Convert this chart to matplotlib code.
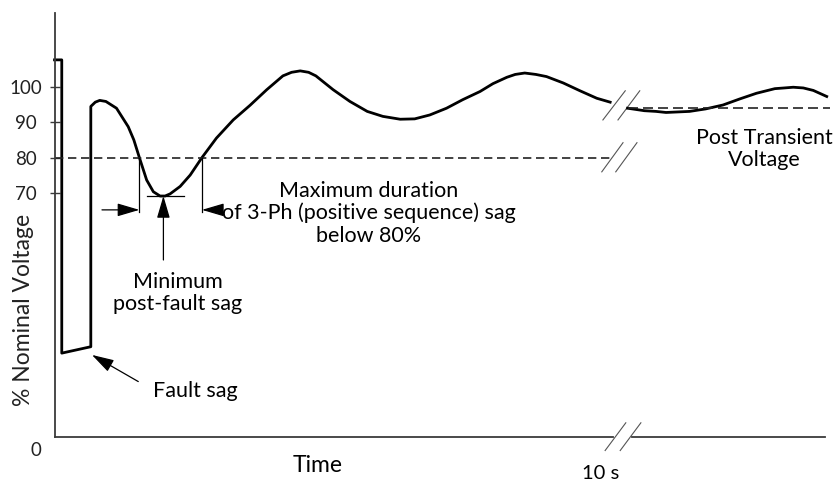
#!/usr/bin/env python3
"""Schematic of a voltage ride-through envelope: fault sag, post-fault
recovery swing and post-transient voltage, with a broken time axis."""

import matplotlib

matplotlib.use("Agg")
import matplotlib as mpl  # noqa: E402
import matplotlib.pyplot as plt  # noqa: E402

# ---------------------------------------------------------------------------
# Data (time in s, voltage in % of nominal)
# ---------------------------------------------------------------------------
PRE_T = [0.0, 0.13, 0.13, 0.65, 0.65, 0.73, 0.81, 0.92, 1.11, 1.32, 1.42,
         1.52, 1.65, 1.77, 1.89, 1.98, 2.07, 2.25, 2.43, 2.64, 2.90, 3.20,
         3.50, 3.80, 4.09, 4.245, 4.40, 4.55, 4.68, 4.99, 5.29, 5.60, 5.88,
         6.19, 6.45, 6.72, 7.02, 7.31, 7.62, 7.85, 8.10, 8.25, 8.42, 8.62,
         8.81, 9.11, 9.41, 9.71, 9.95]
PRE_V = [107.5, 107.5, 25.0, 26.8, 94.4, 95.6, 96.1, 95.8, 93.9, 88.7, 85.0,
         80.0, 73.7, 70.4, 69.2, 69.2, 69.8, 71.9, 75.1, 80.0, 85.5, 90.6,
         94.7, 99.1, 103.0, 104.0, 104.4, 104.0, 103.0, 99.1, 95.8, 93.0, 91.6,
         90.8, 90.9, 92.0, 93.9, 96.3, 98.6, 100.8, 102.6, 103.4, 103.8, 103.4,
         102.8, 101.0, 98.8, 96.7, 95.6]

POST_T = [29.92, 30.22, 30.43, 30.61, 31.03, 31.32, 31.63, 31.93, 32.23,
          32.56, 32.73, 32.89, 33.07, 33.25, 33.49]
POST_V = [93.9, 93.2, 93.0, 92.7, 93.0, 93.7, 94.8, 96.5, 98.1, 99.4, 99.6,
          99.8, 99.6, 98.9, 97.2]

SAG_LIMIT = 80.0
SAG_LIMIT_END = 9.95
POST_TRANSIENT = 93.9
POST_TRANSIENT_SPAN = (29.93, 33.55)

CROSS_DOWN = 1.52          # first 80 % crossing
CROSS_UP = 2.64            # second 80 % crossing
MIN_T = 1.95
MIN_V = 69.2

Y_TICKS = [70, 80, 90, 100]
PRE_XLIM = (0.0, 10.0)
POST_XLIM = (30.0, 33.46)
YLIM = (1.4, 120.7)

FONT = ["Lato", "DejaVu Sans"]
AXIS_COLOR = "#3a3a3a"
NOTE_SIZE = 15.5


def setup_style() -> None:
    mpl.rcParams.update({
        "font.family": FONT,
        "font.size": NOTE_SIZE,
        "axes.linewidth": 1.3,
        "axes.edgecolor": AXIS_COLOR,
    })


def arrow(ax, tip, tail):
    ax.annotate(
        "", xy=tip, xytext=tail,
        arrowprops=dict(arrowstyle="-|>,head_length=0.68,head_width=0.2",
                        mutation_scale=20, lw=0.9, color="black",
                        shrinkA=0, shrinkB=0),
        annotation_clip=False,
    )


def break_marks(ax, pairs):
    for (x0, y0), (x1, y1) in pairs:
        ax.plot([x0, x1], [y0, y1], color="#555555", lw=0.8, clip_on=False)


def main() -> None:
    setup_style()
    fig = plt.figure(figsize=(8.36, 4.83), dpi=100)
    ax = fig.add_axes([0.0652, 0.0952, 0.668, 0.878])
    ax2 = fig.add_axes([0.756, 0.0952, 0.2309, 0.878])

    for a in (ax, ax2):
        a.set_ylim(*YLIM)
        a.spines["top"].set_visible(False)
        a.spines["right"].set_visible(False)
    ax.set_xlim(*PRE_XLIM)
    ax2.set_xlim(*POST_XLIM)
    ax2.spines["left"].set_visible(False)
    ax2.set_yticks([])
    ax2.set_xticks([])
    ax2.patch.set_alpha(0)
    ax.set_xticks([])

    ax.set_yticks(Y_TICKS)
    ax.tick_params(axis="y", direction="inout", length=7.2, width=1.0,
                   color=AXIS_COLOR, pad=16.8, labelsize=13.5,
                   labelcolor="#222222")
    for lab in ax.get_yticklabels():
        lab.set_horizontalalignment("center")

    # curves
    ax.plot(PRE_T, PRE_V, color="black", lw=2.0, clip_on=False,
            solid_joinstyle="round")
    ax2.plot(POST_T, POST_V, color="black", lw=2.0, clip_on=False,
             solid_joinstyle="round")

    # reference levels
    ax.plot([0, SAG_LIMIT_END], [SAG_LIMIT, SAG_LIMIT], color="#222222",
            lw=1.2, dashes=(5, 2.8), clip_on=False)
    ax2.plot(POST_TRANSIENT_SPAN, [POST_TRANSIENT, POST_TRANSIENT],
             color="#222222", lw=1.2, dashes=(6, 3), clip_on=False)

    # sag duration markers
    for t in (CROSS_DOWN, CROSS_UP):
        ax.plot([t, t], [SAG_LIMIT, 64.7], color="black", lw=0.9)
    arrow(ax, (CROSS_DOWN, 65.3), (0.85, 65.3))
    arrow(ax, (CROSS_UP, 65.3), (2.96, 65.3))
    ax.plot([1.65, 2.31], [MIN_V, MIN_V], color="black", lw=0.9)
    arrow(ax, (MIN_T, MIN_V), (MIN_T, 51.2))
    arrow(ax, (0.67, 24.5), (1.50, 17.0))

    # break marks (curve, 80 % line, time axis)
    break_marks(ax, [((9.82, 90.6), (10.22, 98.8)), ((10.09, 90.6), (10.48, 98.8)),
                     ((9.80, 76.0), (10.18, 84.2)), ((10.05, 76.0), (10.43, 84.2)),
                     ((9.86, -2.4), (10.23, 5.4)), ((10.13, -2.4), (10.50, 5.4))])

    # text (va="baseline" anchors the last line of a block)
    ax.text(1.758, 12.7, "Fault sag", ha="left", va="baseline")
    ax.text(2.211, 37.2, "Minimum\npost-fault sag", ha="center",
            va="baseline", multialignment="center", linespacing=1.13)
    ax.text(5.631, 56.4,
            "Maximum duration\nof 3-Ph (positive sequence) sag\nbelow 80%",
            ha="center", va="baseline", multialignment="center",
            linespacing=1.13)
    ax2.text(32.38, 77.7, "Post Transient\nVoltage", ha="center",
             va="baseline", multialignment="center", linespacing=1.13,
             clip_on=False)
    ax.text(-0.33, -2.5, "0", ha="center", va="center", color="#222222",
            fontsize=13.5, clip_on=False)
    ax.text(0.472, -0.068, "Time", transform=ax.transAxes, ha="center",
            va="center", fontsize=16.5)
    ax.text(0.9785, -0.085, "10 s", transform=ax.transAxes, ha="center",
            va="center", fontsize=14.5)
    fig.text(24 / 836, 1 - 310 / 483, "% Nominal Voltage", rotation=90,
             ha="center", va="center", color="#222222", fontsize=16.5)

    fig.savefig("out.png", dpi=100)
    plt.close(fig)


if __name__ == "__main__":
    main()
